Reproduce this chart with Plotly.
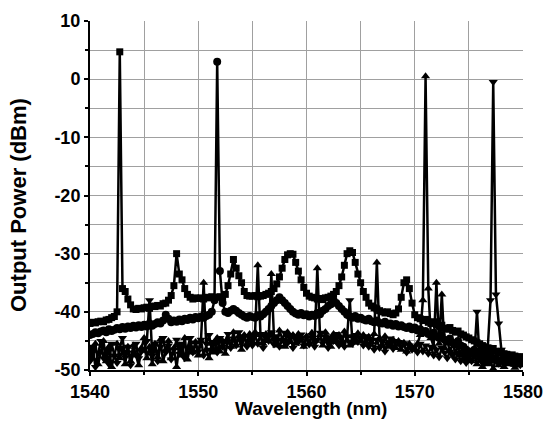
import numpy as np
import plotly.graph_objects as go

# OSA sampling grid (nm)
wavelength = np.round(np.arange(1540.0, 1580.001, 0.25), 2)

# output power (dBm), one list per spectrum
sq_power = [
    -42.0, -41.8, -41.9, -41.7, -41.6, -41.7, -41.4, -41.3, -41.0, -40.8, -40.0, 4.7, -36.0, -36.5, -37.8, -38.8, -39.5, -39.6, -39.4, -39.5,
    -39.3, -39.2, -39.4, -39.0, -39.1, -38.9, -39.0, -38.6, -38.5, -38.0, -37.2, -35.5, -30.0, -33.5, -34.5, -36.0, -37.0, -37.5, -37.8, -37.6,
    -37.7, -37.6, -37.8, -37.5, -37.6, -37.4, -37.7, -37.5, -37.4, -37.6, -37.0, -35.5, -33.5, -31.0, -32.5, -33.8, -35.0, -36.5, -37.2, -37.3,
    -37.3, -37.2, -37.4, -37.3, -37.2, -37.0, -36.8, -36.5, -36.0, -35.2, -34.0, -32.5, -31.0, -30.2, -30.0, -30.1, -31.5, -33.0, -34.5, -35.8,
    -36.8, -37.3, -37.5, -37.6, -37.8, -37.7, -37.9, -37.6, -37.5, -37.3, -37.0, -36.5, -35.5, -34.0, -32.0, -30.0, -29.5, -29.8, -31.5, -33.5,
    -35.0, -36.5, -37.5, -38.5, -39.0, -39.3, -39.5, -39.8, -40.0, -40.2, -40.0, -40.3, -40.5, -40.2, -39.5, -37.5, -35.0, -34.5, -36.0, -38.5,
    -40.5, -41.0, -41.2, -41.5, -41.3, -41.8, -42.0, -41.7, -42.2, -42.5, -42.3, -42.8, -43.0, -42.7, -43.2, -43.5, -43.3, -43.8, -44.0, -44.3,
    -44.5, -44.8, -45.0, -45.3, -45.5, -45.8, -46.0, -46.2, -46.5, -46.3, -46.8, -47.0, -46.8, -47.2, -47.3, -47.5, -47.4, -47.6, -47.8, -47.7,
    -48.0,
]

ci_power = [
    -44.0, -43.8, -43.5, -43.7, -43.4, -43.2, -43.5, -43.0, -43.3, -43.1, -42.8, -43.0, -42.6, -42.9, -42.5, -42.8, -42.4, -42.7, -42.3, -42.6,
    -42.2, -42.5, -42.0, -42.4, -42.1, -41.8, -42.0, -41.5, -40.5, -41.2, -41.8, -41.5, -41.7, -41.3, -41.6, -41.2, -41.4, -41.0, -41.3, -40.9,
    -41.1, -40.8, -41.0, -40.7, -40.5, -40.0, -38.0, 3.0, -33.0, -38.5, -40.0, -40.2, -39.8, -39.5, -39.8, -40.2, -40.5, -40.8, -41.0, -40.7,
    -40.9, -41.0, -40.6, -40.8, -40.4, -40.0, -39.5, -39.0, -38.5, -38.0, -37.5, -38.0, -38.5, -39.0, -39.5, -40.0, -40.3, -40.5, -40.2, -40.6,
    -40.4, -40.8, -40.5, -40.7, -40.2, -40.4, -39.8, -39.5, -39.0, -38.7, -38.0, -38.5, -39.0, -39.5, -40.0, -40.5, -40.8, -41.0, -40.7, -41.2,
    -41.0, -41.3, -41.5, -41.2, -41.6, -41.8, -41.5, -41.9, -42.0, -41.7, -42.2, -42.0, -42.4, -42.1, -42.5, -42.3, -42.6, -42.8, -42.5, -43.0,
    -42.7, -43.2, -43.0, -43.5, -43.3, -43.8, -44.0, -43.6, -44.2, -44.5, -44.0, -44.8, -45.0, -44.6, -45.3, -45.5, -45.0, -45.8, -46.0, -46.5,
    -46.8, -47.0, -46.5, -47.2, -47.5, -47.0, -47.8, -48.0, -47.5, -48.2, -48.0, -48.5, -48.3, -48.0, -48.6, -48.4, -48.8, -48.5, -48.9, -48.7,
    -48.8,
]

tu_power = [
    -46.5, -48.0, -45.5, -49.0, -47.0, -45.0, -48.5, -46.0, -49.5, -47.5, -45.5, -48.0, -46.5, -49.0, -46.0, -48.5, -45.8, -47.5, -49.2, -46.2,
    -44.5, -48.0, -46.0, -49.0, -45.5, -47.8, -44.8, -48.5, -46.5, -45.0, -48.0, -46.2, -49.5, -45.8, -47.5, -44.5, -48.2, -46.0, -47.0, -45.2,
    -47.5, -45.0, -35.0, -46.5, -48.0, -45.5, -47.0, -44.5, -46.8, -45.0, -47.2, -44.8, -46.0, -43.5, -45.8, -44.2, -46.5, -44.0, -45.5, -43.8,
    -45.2, -43.5, -32.0, -44.0, -45.5, -43.8, -45.0, -33.5, -44.5, -45.8, -43.2, -44.8, -46.0, -43.5, -45.2, -44.0, -45.5, -43.8, -44.6, -46.0,
    -44.2, -45.5, -43.6, -45.0, -32.5, -44.0, -45.8, -43.5, -44.8, -46.0, -43.8, -45.2, -44.0, -45.6, -43.4, -44.9, -45.8, -44.2, -45.3, -43.7,
    -45.0, -44.0, -45.6, -44.3, -45.2, -43.8, -31.5, -44.5, -45.8, -44.2, -45.5, -46.0, -44.8, -46.2, -45.0, -46.5, -45.3, -46.8, -45.5, -46.2,
    -46.5, -45.5, -44.0, -38.0, 0.5, -36.0, -44.5, -46.0, -35.0, -45.5, -37.0, -46.2, -45.0, -46.8, -45.5, -47.0, -46.0, -47.5, -46.5, -48.0,
    -47.0, -48.5, -47.5, -49.0, -48.0, -49.5, -48.2, -49.0, -48.5, -49.8, -48.0, -49.2, -48.7, -49.5, -48.3, -49.0, -48.8, -49.6, -48.5, -49.2,
    -49.0,
]

td_power = [
    -48.5, -46.0, -49.5, -47.0, -45.0, -48.0, -46.5, -49.0, -45.5, -47.5, -48.8, -46.2, -44.5, -47.8, -46.0, -49.2, -47.0, -45.5, -48.0, -46.8,
    -46.5, -45.0, -38.0, -47.5, -45.5, -48.5, -46.0, -44.5, -47.0, -45.8, -48.2, -46.5, -44.8, -47.2, -45.5, -48.0, -46.2, -44.5, -47.0, -45.3,
    -46.8, -44.8, -47.5, -45.5, -44.0, -46.5, -45.2, -47.0, -44.5, -46.0, -45.0, -43.8, -46.2, -44.6, -45.8, -43.5, -45.0, -44.2, -46.0, -44.5,
    -45.8, -44.0, -45.5, -43.8, -46.2, -44.5, -45.0, -43.5, -45.6, -44.2, -46.0, -44.8, -43.6, -45.4, -44.0, -46.2, -44.6, -45.2, -43.9, -45.8,
    -44.4, -45.6, -44.0, -46.0, -44.8, -43.6, -45.4, -44.2, -46.2, -44.5, -45.0, -43.8, -45.8, -44.4, -46.0, -44.2, -38.0, -45.5, -44.0, -45.2,
    -44.6, -45.8, -44.2, -46.0, -45.0, -46.5, -44.8, -46.2, -45.2, -46.8, -45.5, -44.6, -46.4, -45.0, -45.2, -46.0, -45.4, -47.0, -45.8, -46.5,
    -46.0, -47.0, -45.5, -46.8, -45.8, -47.2, -46.0, -47.5, -46.5, -47.8, -46.2, -47.0, -48.0, -46.8, -47.5, -48.2, -47.0, -48.5, -47.5, -48.8,
    -47.8, -48.5, -47.5, -40.0, -48.2, -47.5, -48.8, -46.0, -38.0, -0.5, -37.0, -42.0, -46.5, -48.0, -47.2, -48.5, -47.8, -49.0, -48.2, -49.2,
    -48.5,
]

x_ticks = [1540, 1550, 1560, 1570, 1580]
y_ticks = [-50, -40, -30, -20, -10, 0, 10]

FONT = "Liberation Sans, Arial, sans-serif"
W, H = 547, 421
L, R, T, B = 90, 24, 21, 51
pw, ph = W - L - R, H - T - B

fig = go.Figure()
for y, sym, sz in [(td_power, 'triangle-down', 8),
                   (tu_power, 'triangle-up', 8),
                   (ci_power, 'circle', 8),
                   (sq_power, 'square', 7)]:
    fig.add_trace(go.Scatter(x=wavelength, y=y, mode='lines+markers',
                             line=dict(color='black', width=2.5),
                             marker=dict(symbol=sym, size=sz, color='black'),
                             showlegend=False))

axis_common = dict(
    showline=True, linewidth=2, linecolor='black', automargin=False,
    ticks='outside', ticklen=4, tickwidth=2, tickcolor='black',
    showgrid=True, gridcolor='#a0a0a0', gridwidth=1, zeroline=False,
    tickfont=dict(family=FONT, size=18, color='black', weight='bold'),
    minor=dict(dtick=5, ticks='outside', ticklen=3, tickwidth=2, tickcolor='black',
               showgrid=True, gridcolor='#a0a0a0', gridwidth=1),
)

fig.update_layout(
    width=W, height=H,
    margin=dict(l=L, r=R, t=T, b=B),
    paper_bgcolor='white', plot_bgcolor='white',
    xaxis=dict(range=[1540, 1580], tickvals=x_ticks,
               ticktext=[str(v) for v in x_ticks], **axis_common),
    yaxis=dict(range=[-50, 10], tickvals=y_ticks,
               ticktext=[str(v) for v in y_ticks], **axis_common),
    annotations=[
        # axis titles placed in pixel terms
        dict(text='Wavelength (nm)', x=(311 - L) / pw, y=(H - B - H + 1) / ph,
             xref='paper', yref='paper', yanchor='bottom', borderpad=0,
             showarrow=False,
             font=dict(family=FONT, size=19, color='black', weight='bold')),
        dict(text='Output Power (dBm)', textangle=-90, x=(18 - L) / pw,
             y=(H - B - 205) / ph, xref='paper', yref='paper',
             xanchor='center', showarrow=False,
             font=dict(family=FONT, size=22, color='black', weight='bold')),
    ],
)

fig.write_html("out.html", config={'displayModeBar': False},
               post_script="document.body.style.margin='0';")
